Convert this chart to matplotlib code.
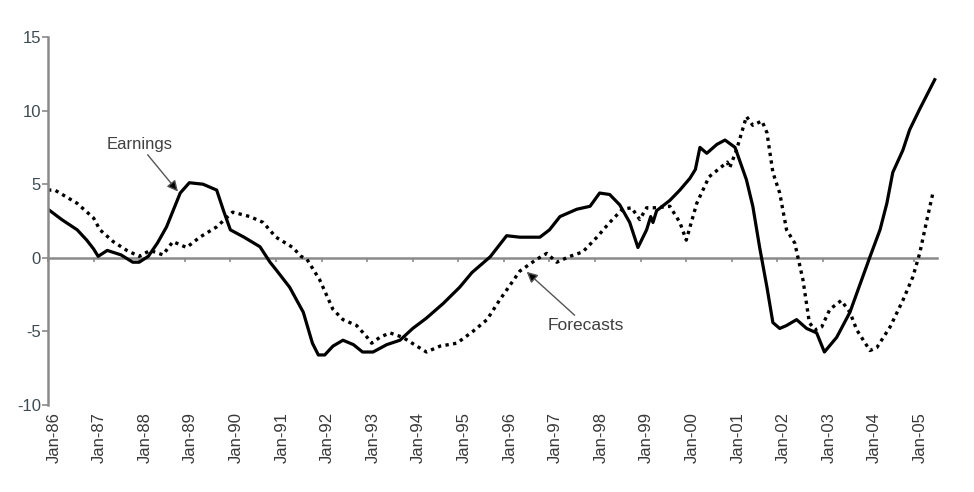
import matplotlib
matplotlib.use("Agg")
import matplotlib.pyplot as plt
from matplotlib.transforms import ScaledTranslation

# ---- data (fractional years, % values) ----
earn_t = [1986.0, 1986.3, 1986.64, 1986.85, 1987.0, 1987.1, 1987.3, 1987.6, 1987.86, 1988.0,
          1988.2, 1988.4, 1988.6, 1988.9, 1989.1, 1989.4, 1989.7, 1989.85, 1990.0, 1990.3,
          1990.65, 1990.87, 1991.0, 1991.3, 1991.6, 1991.8, 1991.93, 1992.07, 1992.25, 1992.47,
          1992.7, 1992.9, 1993.13, 1993.43, 1993.72, 1994.0, 1994.3, 1994.67, 1995.03, 1995.3,
          1995.7, 1996.06, 1996.35, 1996.79, 1997.0, 1997.23, 1997.6, 1997.89, 1998.1, 1998.32,
          1998.54, 1998.76, 1998.94, 1999.13, 1999.22, 1999.27, 1999.35, 1999.64, 1999.86, 2000.08,
          2000.2, 2000.3, 2000.45, 2000.67, 2000.85, 2001.07, 2001.32, 2001.46, 2001.61, 2001.77,
          2001.9, 2002.05, 2002.2, 2002.42, 2002.64, 2002.86, 2003.03, 2003.3, 2003.59, 2003.87,
          2004.03, 2004.25, 2004.4, 2004.53, 2004.75, 2004.9, 2005.12, 2005.45]
earn_v = [3.3, 2.6, 1.9, 1.2, 0.6, 0.1, 0.5, 0.2, -0.3, -0.3,
          0.1, 1.0, 2.1, 4.4, 5.1, 5.0, 4.6, 3.2, 1.9, 1.4,
          0.75, -0.3, -0.8, -2.0, -3.7, -5.8, -6.6, -6.6, -6.0, -5.6,
          -5.9, -6.4, -6.4, -5.9, -5.6, -4.8, -4.1, -3.1, -2.0, -1.0,
          0.07, 1.5, 1.4, 1.4, 1.9, 2.8, 3.3, 3.5, 4.4, 4.3,
          3.6, 2.4, 0.7, 1.9, 2.8, 2.4, 3.2, 3.9, 4.6, 5.4,
          6.0, 7.5, 7.1, 7.7, 8.0, 7.5, 5.3, 3.5, 0.7, -2.0,
          -4.4, -4.8, -4.6, -4.2, -4.8, -5.1, -6.4, -5.4, -3.7, -1.3,
          0.07, 1.9, 3.7, 5.8, 7.3, 8.7, 10.1, 12.1]

fc_t = [1986.0, 1986.15, 1986.64, 1987.0, 1987.14, 1987.43, 1987.73, 1988.0, 1988.24, 1988.52,
        1988.74, 1989.04, 1989.33, 1989.7, 1990.05, 1990.43, 1990.72, 1991.0, 1991.37, 1991.55,
        1991.68, 1991.96, 1992.25, 1992.47, 1992.77, 1993.0, 1993.1, 1993.28, 1993.5, 1993.78,
        1994.09, 1994.3, 1994.6, 1994.97, 1995.32, 1995.63, 1995.9, 1996.35, 1996.72, 1996.94,
        1997.16, 1997.45, 1997.73, 1998.04, 1998.32, 1998.6, 1998.8, 1998.98, 1999.13, 1999.35,
        1999.64, 1999.86, 2000.0, 2000.23, 2000.5, 2000.9, 2000.95, 2001.1, 2001.32, 2001.46,
        2001.66, 2001.77, 2001.9, 2002.05, 2002.2, 2002.38, 2002.56, 2002.7, 2002.82, 2002.97,
        2003.15, 2003.4, 2003.59, 2003.74, 2004.03, 2004.18, 2004.47, 2004.75, 2004.97, 2005.12,
        2005.28, 2005.41]
fc_v = [4.6, 4.6, 3.7, 2.7, 1.9, 1.1, 0.5, 0.1, 0.5, 0.2,
        1.1, 0.7, 1.4, 2.1, 3.1, 2.8, 2.4, 1.4, 0.7, 0.1,
        -0.1, -1.5, -3.5, -4.2, -4.6, -5.4, -5.8, -5.4, -5.1, -5.4,
        -6.0, -6.4, -6.0, -5.8, -5.0, -4.2, -2.9, -0.9, -0.1, 0.3,
        -0.3, 0.1, 0.4, 1.4, 2.4, 3.3, 3.4, 2.6, 3.4, 3.4,
        3.5, 2.4, 1.2, 3.7, 5.5, 6.5, 6.1, 7.3, 9.6, 9.0,
        9.3, 8.5, 5.8, 4.4, 1.9, 1.0, -1.5, -4.4, -4.9, -4.7,
        -3.5, -2.9, -3.7, -4.9, -6.3, -6.1, -4.7, -2.9, -1.3, 0.3,
        2.6, 4.4]

tick_years = list(range(1986, 2006))
tick_labels = ["Jan-%02d" % (y % 100) for y in tick_years]
y_ticks = [-10, -5, 0, 5, 10, 15]

# ---- figure ----
plt.rcParams['font.family'] = ['Liberation Sans', 'DejaVu Sans']
fig = plt.figure(figsize=(9.74, 4.92), dpi=100)
ax = fig.add_axes([48 / 974, 1 - 405 / 492, (937 - 48) / 974, (405 - 37) / 492])

ax.plot(earn_t, earn_v, color='black', lw=2.3, solid_joinstyle='round')
ax.plot(fc_t, fc_v, color='black', lw=2.4, linestyle=(0, (1.0, 1.3)))

ax.set_xlim(1986, 2005.5)
ax.set_ylim(-10, 15)

axis_gray = '#8a8a8a'
label_col = '#3e4a52'

for s in ['top', 'right']:
    ax.spines[s].set_visible(False)
ax.spines['left'].set_color(axis_gray)
ax.spines['left'].set_linewidth(1.8)
ax.spines['bottom'].set_position(('data', 0))
ax.spines['bottom'].set_color(axis_gray)
ax.spines['bottom'].set_linewidth(1.8)
ax.spines['bottom'].set_zorder(0)

ax.set_yticks(y_ticks)
ax.set_yticklabels([str(v) for v in y_ticks])
ax.tick_params(axis='y', direction='out', length=4, width=1.2, color=axis_gray,
               labelsize=12, labelcolor=label_col, pad=1)
ax.set_xticks(tick_years)
ax.tick_params(axis='x', direction='out', length=3, width=1.2, color=axis_gray,
               labelbottom=False)

sec = ax.secondary_xaxis('bottom')
sec.set_xticks(tick_years)
sec.set_xticklabels(tick_labels, rotation=90, va='top', ha='center')
sec.tick_params(axis='x', length=0, labelsize=12, labelcolor='#383838', pad=5)
sec.spines['bottom'].set_visible(False)
off = ScaledTranslation(6 / 100, 0, fig.dpi_scale_trans)
for lab in sec.get_xticklabels():
    lab.set_transform(lab.get_transform() + off)

arrow = dict(arrowstyle='-|>', fc='black', ec='#555555', lw=1.0, mutation_scale=16,
             shrinkA=0, shrinkB=0)
ax.annotate('Earnings', xy=(1988.85, 4.5), xytext=(1988.0, 7.7), fontsize=12,
            color='#404040', ha='center', va='center', arrowprops=arrow)
ax.annotate('Forecasts', xy=(1996.5, -0.95), xytext=(1997.8, -4.6), fontsize=12.5,
            color='#404040', ha='center', va='center', arrowprops=arrow)

fig.savefig('out.png', dpi=100)
